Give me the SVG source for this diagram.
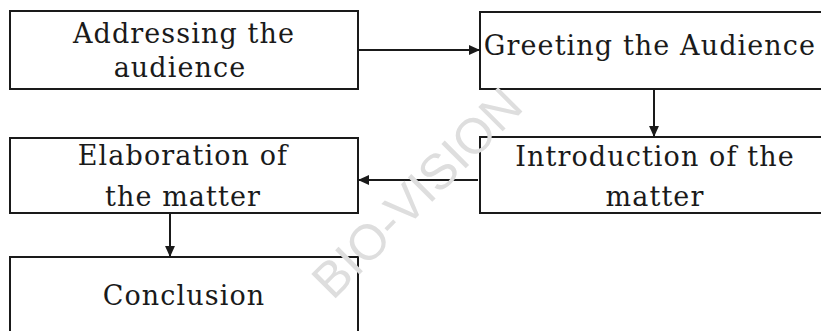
<svg xmlns="http://www.w3.org/2000/svg" width="821" height="331" viewBox="0 0 821 331">
<defs>
<style>
.box{fill:#fff;stroke:#1a1a1a;stroke-width:2}
.lbl{font-family:"DejaVu Serif","Liberation Serif",serif;font-size:27px;letter-spacing:1.1px;fill:#1a1a1a;text-anchor:middle}
.con{stroke:#1a1a1a;stroke-width:2;fill:none;marker-end:url(#ah)}
.wm{font-family:"Liberation Sans",Arial,sans-serif;font-size:50px;fill:#dedede;text-anchor:middle}
</style>
<marker id="ah" viewBox="0 0 10 10" refX="10" refY="5" markerWidth="11" markerHeight="11" markerUnits="userSpaceOnUse" orient="auto">
<path d="M0,0.5 L10,5 L0,9.5 Z" fill="#1a1a1a"/>
</marker>
</defs>
<rect width="821" height="331" fill="#fff"/>
<g id="n1"><rect class="box" x="10" y="11" width="348" height="78"/><text class="lbl" x="184" y="43">Addressing the</text><text class="lbl" x="180" y="77">audience</text></g>
<g id="n2"><rect class="box" x="480" y="12" width="360" height="77"/><text class="lbl" x="650" y="55">Greeting the Audience</text></g>
<g id="n3"><rect class="box" x="480" y="137" width="360" height="76"/><text class="lbl" x="655" y="166">Introduction of the</text><text class="lbl" x="655" y="206">matter</text></g>
<g id="n4"><rect class="box" x="10" y="138" width="348" height="75"/><text class="lbl" x="183" y="165">Elaboration of</text><text class="lbl" x="183" y="206">the matter</text></g>
<g id="n5"><rect class="box" x="10" y="257" width="348" height="90"/><text class="lbl" x="184" y="305">Conclusion</text></g>
<g id="connectors">
<line class="con" x1="358" y1="50" x2="480" y2="50"/>
<line class="con" x1="654" y1="89" x2="654" y2="137"/>
<line class="con" x1="478" y1="180" x2="358" y2="180"/>
<line class="con" x1="170" y1="213" x2="170" y2="257"/>
</g>
<text class="wm" x="417" y="210" transform="rotate(-45 417 193)">BIO-VISION</text>
</svg>
